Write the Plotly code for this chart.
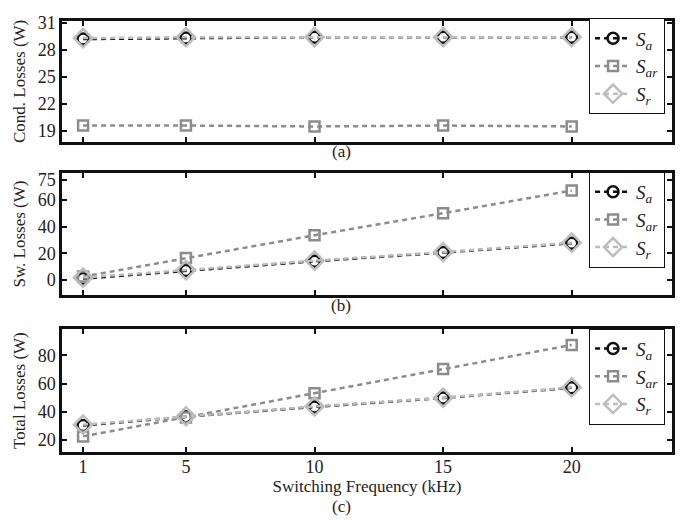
import plotly.graph_objects as go

freq = [1, 5, 10, 15, 20]
x_ticks = [1, 5, 10, 15, 20]

cond_sa = [29.2, 29.3, 29.4, 29.4, 29.4]
cond_sar = [19.6, 19.6, 19.5, 19.6, 19.5]
cond_sr = [29.3, 29.4, 29.4, 29.4, 29.4]

sw_sa = [1.0, 7.0, 14.0, 20.5, 27.5]
sw_sar = [2.5, 16.5, 33.5, 50.0, 67.0]
sw_sr = [1.8, 7.4, 14.5, 20.9, 27.9]

tot_sa = [30.2, 36.5, 43.4, 49.8, 57.0]
tot_sar = [22.5, 36.0, 53.2, 70.3, 87.5]
tot_sr = [30.8, 36.8, 43.8, 50.0, 57.3]

cond_ticks = [19, 22, 25, 28, 31]
sw_ticks = [0, 20, 40, 60, 75]
tot_ticks = [20, 40, 60, 80]

names = ["<i>S</i><sub><i>a</i></sub>", "<i>S</i><sub><i>ar</i></sub>", "<i>S</i><sub><i>r</i></sub>"]
colors = ["#111111", "#8c8c8c", "#bdbdbd"]
symbols = ["circle-open", "square-open", "diamond-open"]
sizes = [11, 10, 14]

FONT = "Liberation Serif"
fig = go.Figure()

panels = [
    ([cond_sa, cond_sar, cond_sr], "legend"),
    ([sw_sa, sw_sar, sw_sr], "legend2"),
    ([tot_sa, tot_sar, tot_sr], "legend3"),
]
axis_map = [("x3", "y3"), ("x2", "y2"), ("x", "y")]
for (series, leg), (xa, ya) in zip(panels, axis_map):
    for vals, nm, col, sym, sz in zip(series, names, colors, symbols, sizes):
        fig.add_trace(go.Scatter(
            x=freq, y=vals, name=nm, mode="lines+markers",
            line=dict(color=col, width=2.5, dash="5px,4px"),
            marker=dict(symbol=sym, size=sz, color=col, line=dict(width=2.5, color=col)),
            xaxis=xa, yaxis=ya, legend=leg, showlegend=True,
        ))

axcommon = dict(showline=True, linecolor="#111", linewidth=2.5, mirror="ticks",
                ticks="inside", ticklen=5, tickwidth=1.5, tickcolor="#111",
                showgrid=False, zeroline=False,
                tickfont=dict(family=FONT, size=18, color="#222"))

title_font = dict(family=FONT, size=17, color="#222")
xr = [0.18, 23.9]
fig.update_layout(
    width=684, height=520,
    margin=dict(l=54, r=20, t=5, b=76),
    plot_bgcolor="white", paper_bgcolor="white",
    font=dict(family=FONT, size=17, color="#222"),
    xaxis=dict(domain=[0, 1], range=xr, tickvals=x_ticks, anchor="y",
               ticklabelstandoff=-3,
               title=dict(text="Switching Frequency (kHz)", standoff=0, font=title_font),
               **axcommon),
    yaxis=dict(domain=[0, 0.2847], range=[11.4, 98.6], tickvals=tot_ticks, anchor="x",
               title=dict(text="Total Losses (W)", standoff=8, font=title_font),
               **axcommon),
    xaxis2=dict(domain=[0, 1], range=xr, tickvals=x_ticks, showticklabels=False, anchor="y2", **axcommon),
    yaxis2=dict(domain=[0.3645, 0.6469], range=[-11.2, 80], tickvals=sw_ticks, anchor="x2",
                title=dict(text="Sw. Losses (W)", standoff=8, font=title_font),
                **axcommon),
    xaxis3=dict(domain=[0, 1], range=xr, tickvals=x_ticks, showticklabels=False, anchor="y3", **axcommon),
    yaxis3=dict(domain=[0.7198, 1.0], range=[17.8, 31.2], tickvals=cond_ticks, anchor="x3",
                title=dict(text="Cond. Losses (W)", standoff=8, font=title_font),
                **axcommon),
)

legcommon = dict(xanchor="left", yanchor="top", bgcolor="white", bordercolor="#111",
                 borderwidth=1, font=dict(family=FONT, size=19, color="#222"),
                 itemwidth=36, tracegroupgap=0)
fig.update_layout(
    legend=dict(x=0.864, y=1.006, **legcommon),
    legend2=dict(x=0.864, y=0.650, **legcommon),
    legend3=dict(x=0.864, y=0.286, **legcommon),
)

for txt, y in [("(a)", 0.697), ("(b)", 0.3394), ("(c)", -0.1276)]:
    fig.add_annotation(text=txt, x=0.458, y=y, xref="paper", yref="paper",
                       showarrow=False, xanchor="center", yanchor="middle",
                       font=dict(family=FONT, size=17, color="#222"))

fig.write_html("out.html")
